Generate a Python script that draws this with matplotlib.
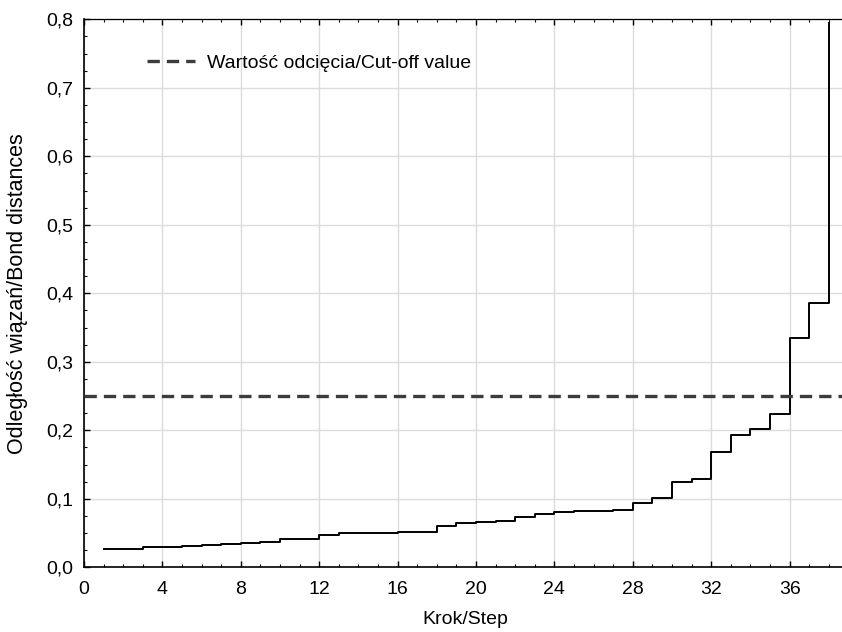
import matplotlib
matplotlib.use("Agg")
import matplotlib.pyplot as plt
from matplotlib.ticker import MultipleLocator, FuncFormatter

plt.rcParams['font.family'] = ['Liberation Sans', 'DejaVu Sans']

steps = list(range(1, 39))
distances = [0.026, 0.026, 0.029, 0.030, 0.0315, 0.033, 0.0345, 0.036, 0.0375, 0.042,
             0.042, 0.047, 0.0495, 0.050, 0.0505, 0.051, 0.052, 0.060, 0.064, 0.0665,
             0.068, 0.073, 0.078, 0.080, 0.0815, 0.0825, 0.083, 0.0934, 0.1007, 0.125,
             0.129, 0.168, 0.193, 0.2015, 0.224, 0.335, 0.386, 0.795]
cutoff = 0.25
cutoff_label = "Wartość odcięcia/Cut-off value"
x_label = "Krok/Step"
y_label = "Odległość wiązań/Bond distances"

fig = plt.figure(figsize=(8.42, 6.32), dpi=100)
ax = fig.add_axes([0.0998, 0.1024, 0.905, 0.867])

ax.step(steps, distances, where='post', color='black', lw=1.4, zorder=3)
ax.axhline(cutoff, color='#3c3c3c', lw=2.4, dashes=(3.7, 2.1), label=cutoff_label, zorder=4)

ax.set_xlim(0, 38.88)
ax.set_ylim(0, 0.8)
ax.xaxis.set_major_locator(MultipleLocator(4))
ax.xaxis.set_minor_locator(MultipleLocator(1))
ax.yaxis.set_major_locator(MultipleLocator(0.1))
ax.yaxis.set_minor_locator(MultipleLocator(0.025))
ax.yaxis.set_major_formatter(FuncFormatter(lambda v, p: f"{v:.1f}".replace('.', ',')))

ax.grid(True, which='major', color='#dcdcdc', lw=1.0, zorder=0)
ax.set_axisbelow(True)
ax.tick_params(which='both', direction='in', top=True, right=False, labelsize=14, colors='black')
ax.tick_params(which='major', length=4, width=1)
ax.tick_params(which='minor', length=2.5, width=0.8)
ax.tick_params(axis='x', pad=10)
ax.tick_params(axis='y', pad=8)
for s in ['left', 'bottom']:
    ax.spines[s].set_linewidth(1.2)
ax.spines['top'].set_linewidth(0.9)
ax.spines['right'].set_visible(False)

ax.set_xlabel(x_label, fontsize=14)
ax.set_ylabel(y_label, fontsize=15.5)
ax.xaxis.set_label_coords(0.5, -0.079)
ax.yaxis.set_label_coords(-0.0735, 0.5)

ax.legend(loc='center left', bbox_to_anchor=(0.0827, 0.920), frameon=False,
          fontsize=14, handlelength=2.47, handletextpad=0.62, borderpad=0, borderaxespad=0)

fig.savefig("out.png", dpi=100)
